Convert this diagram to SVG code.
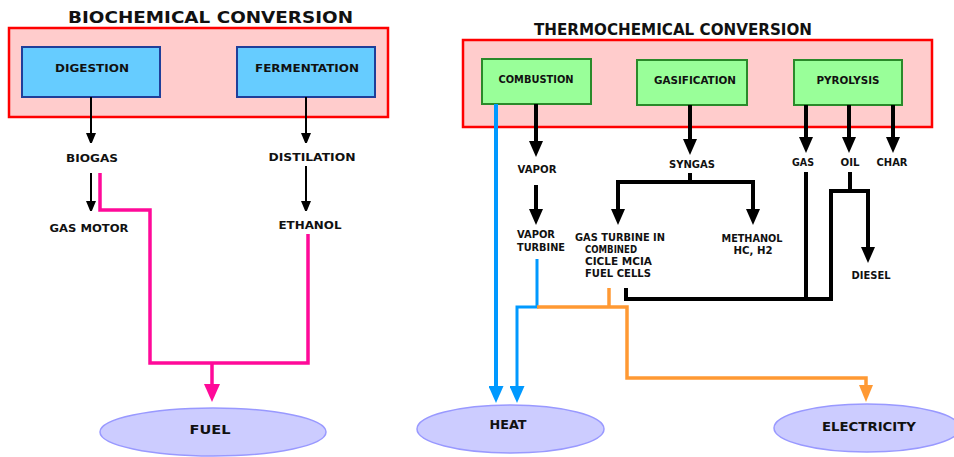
<svg xmlns="http://www.w3.org/2000/svg" width="954" height="457" viewBox="0 0 954 457">
<style>
text{font-family:"DejaVu Sans","Liberation Sans",sans-serif;font-weight:bold;fill:#111;}
.t{font-size:15px;}
.s{font-size:10px;}
.m{font-size:11px;}
.l{font-size:13px;}
.c{text-anchor:middle;}
.panel{fill:#ffcccc;stroke:#ff0000;stroke-width:2.5;}
.blue{fill:#66ccff;stroke:#1f3f9a;stroke-width:2;}
.green{fill:#99ff99;stroke:#2a8a2a;stroke-width:2;}
.out{fill:#ccccff;stroke:#9999ff;stroke-width:1.5;}
.k1{fill:none;stroke:#000;stroke-width:2;}
.k2{fill:none;stroke:#000;stroke-width:4;}
.pk{fill:none;stroke:#ff0a99;stroke-width:3.5;}
.bl{fill:none;stroke:#0099ff;stroke-width:4;}
.bl3{fill:none;stroke:#0099ff;stroke-width:3;}
.or{fill:none;stroke:#ff9933;stroke-width:3.5;}
</style>
<defs>
<marker id="ak1" markerUnits="userSpaceOnUse" markerWidth="10" markerHeight="10" refX="8" refY="5" orient="auto"><path d="M0,0 L12,5 L0,10 z" fill="#000"/></marker>
<marker id="ak2" markerUnits="userSpaceOnUse" markerWidth="20" markerHeight="14" refX="10" refY="7" orient="auto"><path d="M0,0 L16,7 L0,14 z" fill="#000"/></marker>
<marker id="apk" markerUnits="userSpaceOnUse" markerWidth="20" markerHeight="16" refX="12" refY="8" orient="auto"><path d="M0,0 L18,8 L0,16 z" fill="#ff0a99"/></marker>
<marker id="abl" markerUnits="userSpaceOnUse" markerWidth="20" markerHeight="15" refX="11" refY="7.5" orient="auto"><path d="M0,0 L17,7.5 L0,15 z" fill="#0099ff"/></marker>
<marker id="aor" markerUnits="userSpaceOnUse" markerWidth="20" markerHeight="14" refX="11" refY="7" orient="auto"><path d="M0,0 L17,7 L0,14 z" fill="#ff9933"/></marker>
</defs>

<g id="bio-panel">
<rect class="panel" x="9" y="28" width="379" height="89"/>
<text class="t" x="68" y="23" textLength="285" lengthAdjust="spacingAndGlyphs">BIOCHEMICAL CONVERSION</text>
</g>
<g id="thermo-panel">
<rect class="panel" x="463" y="40" width="469" height="87"/>
<text class="t" x="534" y="35" textLength="278" lengthAdjust="spacingAndGlyphs">THERMOCHEMICAL CONVERSION</text>
</g>

<g id="digestion"><rect class="blue" x="22" y="47" width="138" height="50"/><text class="m c" x="92" y="72" textLength="74" lengthAdjust="spacingAndGlyphs">DIGESTION</text></g>
<g id="fermentation"><rect class="blue" x="237" y="47" width="138" height="50"/><text class="m c" x="307" y="72" textLength="104" lengthAdjust="spacingAndGlyphs">FERMENTATION</text></g>
<g id="combustion"><rect class="green" x="482" y="59" width="109" height="45"/><text class="s c" x="536" y="83" textLength="75" lengthAdjust="spacingAndGlyphs">COMBUSTION</text></g>
<g id="gasification"><rect class="green" x="637" y="60" width="110" height="45"/><text class="s c" x="695" y="84" textLength="82" lengthAdjust="spacingAndGlyphs">GASIFICATION</text></g>
<g id="pyrolysis"><rect class="green" x="794" y="60" width="108" height="45"/><text class="s c" x="848" y="84" textLength="63" lengthAdjust="spacingAndGlyphs">PYROLYSIS</text></g>

<g id="biogas"><text class="m c" x="92" y="162" textLength="52" lengthAdjust="spacingAndGlyphs">BIOGAS</text></g>
<g id="gas-motor"><text class="m c" x="89" y="232" textLength="79" lengthAdjust="spacingAndGlyphs">GAS MOTOR</text></g>
<g id="distilation"><text class="m c" x="312" y="161" textLength="87" lengthAdjust="spacingAndGlyphs">DISTILATION</text></g>
<g id="ethanol"><text class="m c" x="310" y="229" textLength="63" lengthAdjust="spacingAndGlyphs">ETHANOL</text></g>

<g id="vapor"><text class="s c" x="537" y="173" textLength="39" lengthAdjust="spacingAndGlyphs">VAPOR</text></g>
<g id="vapor-turbine"><text class="s" x="517" y="238" textLength="38" lengthAdjust="spacingAndGlyphs">VAPOR</text><text class="s" x="517" y="251" textLength="48" lengthAdjust="spacingAndGlyphs">TURBINE</text></g>
<g id="syngas"><text class="s c" x="692" y="168" textLength="46" lengthAdjust="spacingAndGlyphs">SYNGAS</text></g>
<g id="gas-turbine"><text class="s" x="575" y="241" textLength="90" lengthAdjust="spacingAndGlyphs">GAS TURBINE IN</text><text class="s" x="585" y="253" textLength="52" lengthAdjust="spacingAndGlyphs">COMBINED</text><text class="s" x="585" y="265" textLength="67" lengthAdjust="spacingAndGlyphs">CICLE MCIA</text><text class="s" x="585" y="277" textLength="66" lengthAdjust="spacingAndGlyphs">FUEL CELLS</text></g>
<g id="methanol"><text class="s c" x="752" y="242" textLength="61" lengthAdjust="spacingAndGlyphs">METHANOL</text><text class="s c" x="753" y="254" textLength="39" lengthAdjust="spacingAndGlyphs">HC, H2</text></g>
<g id="gas"><text class="s c" x="803" y="166" textLength="22" lengthAdjust="spacingAndGlyphs">GAS</text></g>
<g id="oil"><text class="s c" x="850" y="166" textLength="19" lengthAdjust="spacingAndGlyphs">OIL</text></g>
<g id="char"><text class="s c" x="892" y="166" textLength="31" lengthAdjust="spacingAndGlyphs">CHAR</text></g>
<g id="diesel"><text class="s c" x="871" y="279" textLength="39" lengthAdjust="spacingAndGlyphs">DIESEL</text></g>

<g id="connectors">
<path class="k1" d="M91,97 V141" marker-end="url(#ak1)"/>
<path class="k1" d="M306,97 V141" marker-end="url(#ak1)"/>
<path class="k1" d="M91,173 V209" marker-end="url(#ak1)"/>
<path class="k1" d="M306,166 V209" marker-end="url(#ak1)"/>
<path class="pk" d="M100,173 V210 H150 V363 H308 V234"/>
<path class="pk" d="M212,363 V396" marker-end="url(#apk)"/>

<path class="k2" d="M536,104 V151" marker-end="url(#ak2)"/>
<path class="k2" d="M536,185 V219" marker-end="url(#ak2)"/>
<path class="k2" d="M690,105 V149" marker-end="url(#ak2)"/>
<path class="k2" d="M690,173 V182"/>
<path class="k2" d="M690,182 H618 V219" marker-end="url(#ak2)"/>
<path class="k2" d="M688,182 H753 V219" marker-end="url(#ak2)"/>
<path class="k2" d="M806,105 V147" marker-end="url(#ak2)"/>
<path class="k2" d="M849,105 V147" marker-end="url(#ak2)"/>
<path class="k2" d="M893,105 V147" marker-end="url(#ak2)"/>
<path class="k2" d="M806,172 V299"/>
<path class="k2" d="M850,172 V191"/>
<path class="k2" d="M626,288 V299 H831 V191 H868 V257" marker-end="url(#ak2)"/>

<path class="bl" d="M496,104 V397" marker-end="url(#abl)"/>
<path class="bl3" d="M537,259 V307 H517 V397" marker-end="url(#abl)"/>
<path class="or" d="M609,288 V307"/>
<path class="or" d="M537,307 H627 V378 H866 V396" marker-end="url(#aor)"/>
</g>

<g id="fuel"><ellipse class="out" cx="213" cy="432" rx="113" ry="24"/><text class="l c" x="210" y="434" textLength="41" lengthAdjust="spacingAndGlyphs">FUEL</text></g>
<g id="heat"><ellipse class="out" cx="510.5" cy="429" rx="93.5" ry="24"/><text class="l c" x="508" y="429" textLength="37" lengthAdjust="spacingAndGlyphs">HEAT</text></g>
<g id="electricity"><ellipse class="out" cx="867" cy="428" rx="93" ry="24"/><text class="l c" x="869" y="431" textLength="94" lengthAdjust="spacingAndGlyphs">ELECTRICITY</text></g>
</svg>
